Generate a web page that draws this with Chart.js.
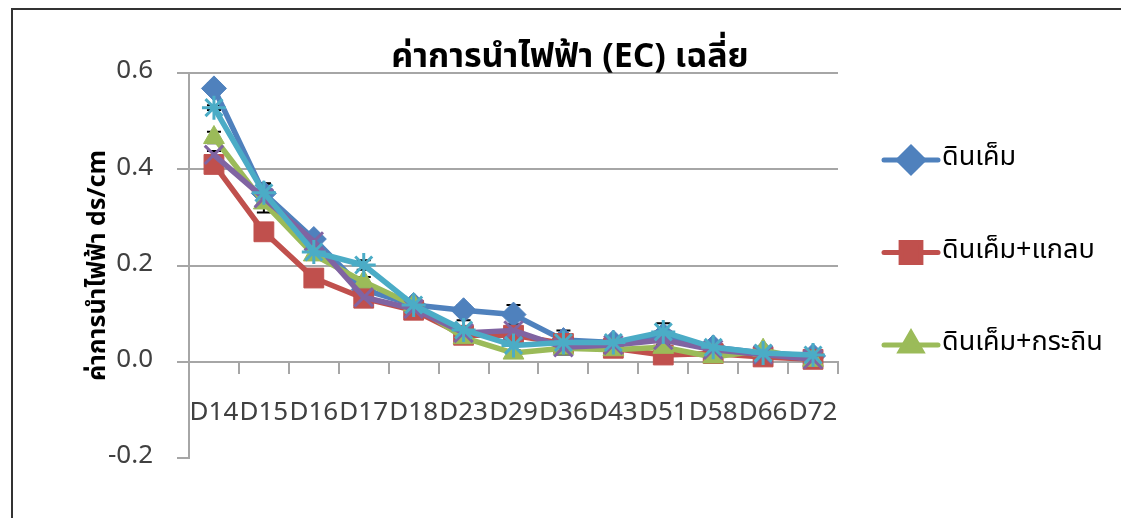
<!DOCTYPE html>
<html>
<head>
<meta charset="utf-8">
<script src="https://cdn.jsdelivr.net/npm/chart.js@4.4.0/dist/chart.umd.min.js"></script>
<style>
  html, body { margin: 0; padding: 0; background: #fff; }
</style>
</head>
<body>
<canvas id="chart" width="1121" height="518"></canvas>
<script>
// days after planting
const days = ['D14', 'D15', 'D16', 'D17', 'D18', 'D23', 'D29', 'D36', 'D43', 'D51', 'D58', 'D66', 'D72'];
const yTicks = [-0.2, 0, 0.2, 0.4, 0.6];

// mean EC per treatment (ds/cm)
const soilSalt   = [0.568, 0.350, 0.255, 0.150, 0.118, 0.107, 0.098, 0.045, 0.040, 0.055, 0.030, 0.018, 0.012];
const soilHusk   = [0.410, 0.270, 0.174, 0.132, 0.107, 0.055, 0.055, 0.038, 0.028, 0.014, 0.017, 0.010, 0.005];
const soilLeuc   = [0.466, 0.330, 0.222, 0.166, 0.118, 0.050, 0.018, 0.028, 0.025, 0.030, 0.010, 0.024, 0.003];
const soilFourth = [0.430, 0.340, 0.250, 0.134, 0.110, 0.060, 0.065, 0.030, 0.035, 0.045, 0.025, 0.015, 0.005];
const soilFifth  = [0.528, 0.351, 0.228, 0.201, 0.118, 0.066, 0.034, 0.040, 0.040, 0.062, 0.030, 0.018, 0.014];

// error bar half-widths
const errSalt   = [0.010, 0.020, 0.010, 0.015, 0.010, 0.010, 0.020, 0.010, 0.005, 0.010, 0.005, 0.005, 0.005];
const errHusk   = [0.010, 0.010, 0.010, 0.010, 0.015, 0.010, 0.010, 0.010, 0.005, 0.005, 0.005, 0.005, 0.005];
const errLeuc   = [0.012, 0.020, 0.010, 0.010, 0.010, 0.010, 0.005, 0.005, 0.005, 0.005, 0.005, 0.005, 0.005];
const errFourth = [0.008, 0.010, 0.010, 0.010, 0.010, 0.010, 0.010, 0.005, 0.005, 0.005, 0.005, 0.005, 0.005];
const errFifth  = [0.005, 0.020, 0.010, 0.010, 0.010, 0.020, 0.010, 0.025, 0.005, 0.018, 0.005, 0.005, 0.005];

const seriesNames = ['ดินเค็ม', 'ดินเค็ม+แกลบ', 'ดินเค็ม+กระถิน', 'ดินเค็ม+4', 'ดินเค็ม+5'];
const FONT = '"Noto Sans Thai", "Noto Sans Thai Looped", Tahoma, "Noto Sans", "DejaVu Sans", sans-serif';
const GRID = '#a6a6a6';

function series(label, data, errs, color, pointStyle, radius, order) {
    const filled = pointStyle === 'rectRot' || pointStyle === 'rect' || pointStyle === 'triangle';
    return {
        label, data, errs, order,
        borderColor: color,
        backgroundColor: color,
        borderWidth: 5.5,
        borderJoinStyle: 'round',
        borderCapStyle: 'round',
        pointStyle,
        pointRadius: radius,
        pointBorderWidth: filled ? 1 : 3,
        pointBackgroundColor: color,
        pointBorderColor: color,
        tension: 0
    };
}

const excelBits = {
    id: 'excelBits',
    beforeDraw(chart) {
        const ctx = chart.ctx;
        ctx.save();
        ctx.strokeStyle = '#333';
        ctx.lineWidth = 2;
        ctx.strokeRect(12, 9, 1200, 600);
        ctx.restore();
    },
    beforeDatasetsDraw(chart) {
        const { ctx, scales: { x, y } } = chart;
        ctx.save();
        ctx.strokeStyle = '#000';
        ctx.lineWidth = 2;
        chart.data.datasets.forEach(ds => {
            ds.data.forEach((v, i) => {
                const px = x.getPixelForValue(i);
                const top = y.getPixelForValue(v + ds.errs[i]);
                const bot = y.getPixelForValue(v - ds.errs[i]);
                ctx.beginPath();
                ctx.moveTo(px, top); ctx.lineTo(px, bot);
                ctx.moveTo(px - 7, top); ctx.lineTo(px + 7, top);
                ctx.moveTo(px - 7, bot); ctx.lineTo(px + 7, bot);
                ctx.stroke();
            });
        });
        ctx.restore();
    },
    afterDraw(chart) {
        const ctx = chart.ctx;
        const area = chart.chartArea;
        ctx.save();
        // title sits on top of the plot, like the original
        ctx.fillStyle = '#000';
        ctx.font = 'bold 34px ' + FONT;
        ctx.textAlign = 'center';
        ctx.textBaseline = 'middle';
        ctx.fillText('ค่าการนำไฟฟ้า (EC) เฉลี่ย', 570, 60);

        // legend: only the first three entries fit in the frame
        const x0 = area.right + 46;
        chart.data.datasets.slice(0, 3).forEach((ds, i) => {
            const ly = 160 + i * 92.5;
            ctx.strokeStyle = ds.borderColor;
            ctx.lineWidth = 5;
            ctx.lineCap = 'round';
            ctx.beginPath();
            ctx.moveTo(x0, ly); ctx.lineTo(x0 + 54, ly);
            ctx.stroke();
            ctx.fillStyle = ds.backgroundColor;
            Chart.helpers.drawPoint(ctx, {
                pointStyle: ds.pointStyle, radius: ds.pointRadius, rotation: 0, borderWidth: 1
            }, x0 + 27, ly);
            ctx.fillStyle = '#000';
            ctx.font = '27px ' + FONT;
            ctx.textAlign = 'left';
            ctx.fillText(ds.label, x0 + 58, ly);
        });
        ctx.restore();
    }
};

new Chart(document.getElementById('chart'), {
    type: 'line',
    data: {
        labels: days,
        datasets: [
            series(seriesNames[0], soilSalt, errSalt, '#4f81bd', 'rectRot', 12.5, 5),
            series(seriesNames[1], soilHusk, errHusk, '#c0504d', 'rect', 14, 4),
            series(seriesNames[2], soilLeuc, errLeuc, '#9bbb59', 'triangle', 12, 3),
            series(seriesNames[3], soilFourth, errFourth, '#8064a2', 'crossRot', 13, 2),
            series(seriesNames[4], soilFifth, errFifth, '#4bacc6', 'star', 12, 1)
        ]
    },
    options: {
        responsive: false,
        animation: false,
        layout: { padding: { top: 73, bottom: 60, left: 0, right: 283 } },
        plugins: {
            legend: { display: false },
            tooltip: { enabled: false }
        },
        scales: {
            x: {
                position: { y: 0 },
                offset: true,
                grid: { offset: true, drawOnChartArea: false, tickLength: 11, color: GRID, lineWidth: 2 },
                border: { color: GRID, width: 2 },
                ticks: {
                    autoSkip: false, maxRotation: 0, minRotation: 0, padding: 26,
                    color: '#404040', font: { size: 26, family: FONT }
                }
            },
            y: {
                min: yTicks[0],
                max: yTicks[yTicks.length - 1],
                afterBuildTicks: s => { s.ticks = yTicks.map(v => ({ value: v })); },
                afterFit: s => { s.width = 189; },
                ticks: {
                    padding: 24, color: '#404040', font: { size: 26, family: FONT },
                    callback: v => v.toFixed(1)
                },
                grid: {
                    color: c => (c.tick && c.tick.value < -0.1) ? 'rgba(0,0,0,0)' : GRID,
                    tickColor: GRID, lineWidth: 2, tickLength: 12
                },
                border: { color: GRID, width: 2 },
                title: {
                    display: true, text: 'ค่าการนำไฟฟ้า ds/cm', color: '#000',
                    font: { size: 25, weight: 'bold', family: FONT },
                    padding: { top: 85, bottom: 0 }
                }
            }
        }
    },
    plugins: [excelBits]
});
</script>
</body>
</html>
